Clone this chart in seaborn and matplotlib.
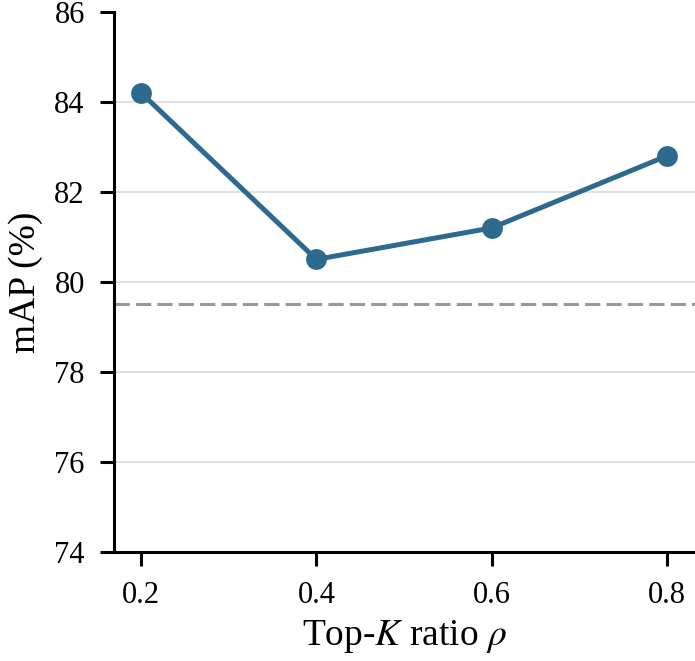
import seaborn as sns
import pandas as pd
import matplotlib
matplotlib.use("Agg")
from matplotlib import pyplot as plt

# values
ratios = [0.2, 0.4, 0.6, 0.8]
map_scores = [84.2, 80.5, 81.2, 82.8]
baseline = 79.5
y_ticks = [74, 76, 78, 80, 82, 84, 86]

df = pd.DataFrame({'ratio': ratios, 'mAP': map_scores})

sns.set_style('ticks')
plt.rcParams['font.family'] = ['Liberation Serif', 'DejaVu Serif']
plt.rcParams['mathtext.fontset'] = 'stix'
plt.rcParams['text.color'] = 'black'
plt.rcParams['axes.labelcolor'] = 'black'
plt.rcParams['xtick.color'] = 'black'
plt.rcParams['ytick.color'] = 'black'

fig = plt.figure(figsize=(6.95, 6.61), dpi=100)
ax = fig.add_axes([0.164, 0.165, 0.836, 0.817])

for t in y_ticks[1:-1]:
    ax.axhline(t, color='#e0e0e0', lw=1.5, zorder=0)
ax.axhline(baseline, color='#999999', lw=2.2, dashes=(5, 2), zorder=1)

sns.lineplot(data=df, x='ratio', y='mAP', ax=ax, color='#2e6a8e', lw=3.6,
             marker='o', markersize=15, markeredgewidth=0, zorder=3)

ax.set_xlim(0.169, 0.832)
ax.set_ylim(74, 86)
ax.set_xticks(ratios)
ax.set_xticklabels([str(r) for r in ratios])
ax.set_yticks(y_ticks)
ax.tick_params(labelsize=22, width=2.2, length=10, color='black', pad=11)
for s in ['left', 'bottom']:
    ax.spines[s].set_linewidth(2.2)
    ax.spines[s].set_color('black')
sns.despine(ax=ax)

ax.set_xlabel(r'Top-$K$ ratio $\rho$', fontsize=27, labelpad=6)
ax.set_ylabel('mAP (%)', fontsize=27, labelpad=8)

fig.savefig('out.png', dpi=100)
